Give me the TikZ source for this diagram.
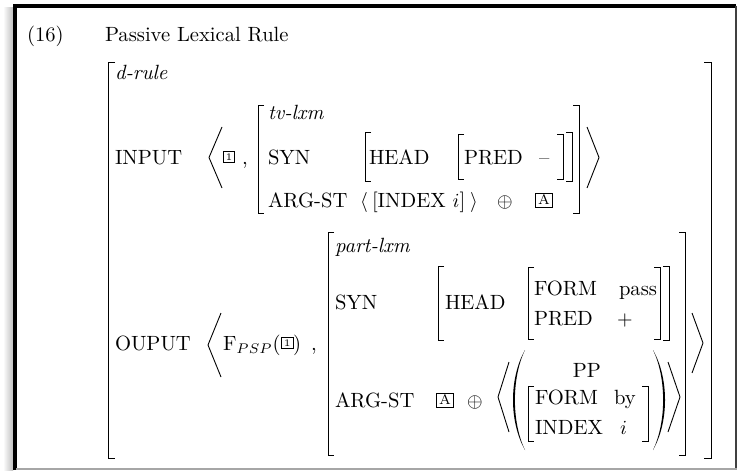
\documentclass[tikz,border=0pt]{standalone}
\usepackage{amsmath}
\usepackage{fontspec}
\begin{document}
\begin{tikzpicture}[x=0.5pt,y=-0.5pt,
  font=\fontsize{10.3pt}{12.4pt}\selectfont,
  t/.style={anchor=base west, inner sep=0pt, outer sep=0pt},
  brk/.style={line width=0.5pt, line cap=butt, line join=miter},
  ang/.style={line width=0.45pt, line join=miter},
  tagbox/.style={draw, line width=0.4pt, inner sep=0pt, outer sep=0pt, minimum width=5.8pt, minimum height=5.8pt, font=\tiny},
  tagboxA/.style={draw, line width=0.4pt, inner sep=0pt, outer sep=0pt, minimum width=8.2pt, minimum height=7pt, font=\scriptsize}]
\useasboundingbox (0,0) rectangle (737,470);
\fill[white] (0,0) rectangle (737,470);
\shade[left color=white, right color=black!25] (3,8) rectangle (13,470);
\draw[line width=2pt] (15,470) -- (15,6) -- (736,6);
\draw[black!75, line width=1pt] (735.5,6) -- (735.5,470);
\draw[black!35, line width=1pt] (16,469) -- (737,469);

% header
\node[t] (num) at (27,42) {(16)};
\node[t] (title) at (105,42) {Passive Lexical Rule};

% outer brackets
\draw[brk] (115,63) -- (108,63) -- (108,458) -- (115,458);
\draw[brk] (704,63) -- (711,63) -- (711,458) -- (704,458);

\node[t] (drule) at (115,80) {\textit{d-rule}};
\node[t] (input) at (115,164) {INPUT};
\node[t] (output) at (115,350) {OUPUT};

% ---------- INPUT ----------
\draw[ang] (222,127) -- (209,157.5) -- (222,188);
\node[tagbox] (one) at (229,157) {1};
\node[t] (c1) at (242,164) {,};
\draw[brk] (264,106) -- (258,106) -- (258,213) -- (264,213);
\draw[brk] (573,106) -- (579,106) -- (579,213) -- (573,213);
\node[t] (tvlxm) at (268,120) {\textit{tv-lxm}};
\node[t] (syn1) at (268,164) {SYN};
\node[t] (arg1) at (268,207) {ARG-ST};
\draw[brk] (371,133) -- (365,133) -- (365,182) -- (371,182);
\draw[brk] (566,133) -- (572,133) -- (572,182) -- (566,182);
\node[t] (head1) at (369,164) {HEAD};
\draw[brk] (464,135) -- (458,135) -- (458,180) -- (464,180);
\draw[brk] (557,135) -- (563,135) -- (563,180) -- (557,180);
\node[t] (pred1) at (464,164) {PRED};
\node[t] (minus) at (539,164) {--};
\node[t] (la1) at (360,207) {$\langle$};
\node[t] (idx1) at (372,207) {[INDEX $i$]};
\node[t] (ra1) at (470,207) {$\rangle$};
\node[t] (op1) at (497,207) {$\oplus$};
\node[tagboxA] (A1) at (544,200) {A};
\draw[ang] (587,127) -- (599,157.5) -- (587,188);

% ---------- OUTPUT ----------
\draw[ang] (221,313) -- (208,345) -- (221,377);
\node[t] (F) at (223,350) {F$_{PSP}$(};
\node[tagbox, anchor=west, xshift=0.4pt] (one2) at (F.east |- 0,343) {1};
\node[t] (rp) at (one2.east |- F.base) {)};
\node[t] (c2) at (311,350) {,};

\draw[brk] (334,232) -- (328,232) -- (328,455) -- (334,455);
\draw[brk] (679,232) -- (685,232) -- (685,455) -- (679,455);
\node[t] (plxm) at (335,252) {\textit{part-lxm}};
\node[t] (syn2) at (335,309) {SYN};
\node[t] (arg2) at (335,407) {ARG-ST};

\draw[brk] (444,266) -- (438,266) -- (438,340) -- (444,340);
\draw[brk] (663,266) -- (669,266) -- (669,340) -- (663,340);
\node[t] (head2) at (445,309) {HEAD};
\draw[brk] (534,267) -- (528,267) -- (528,339) -- (534,339);
\draw[brk] (654,267) -- (660,267) -- (660,339) -- (654,339);
\node[t] (form2) at (534,295) {FORM};
\node[t] (pass) at (619,295) {pass};
\node[t] (pred2) at (534,325) {PRED};
\node[t] (plus) at (617,325) {$+$};

\node[tagboxA] (A2) at (445,400) {A};
\node[t] (op2) at (467,407) {$\oplus$};
\draw[ang] (509,362) -- (498,397) -- (509,432);
\fill (525,350) .. controls (509,378) and (509,422) .. (525,450)
      .. controls (511.5,422) and (511.5,378) .. (525,350);
\node[t, anchor=base east] (pp) at (601,377) {PP};
\draw[brk] (534,386) -- (528,386) -- (528,441) -- (534,441);
\draw[brk] (642,386) -- (648,386) -- (648,441) -- (642,441);
\node[t] (form3) at (535,404) {FORM};
\node[t] (by) at (614,404) {by};
\node[t] (index3) at (535,434) {INDEX};
\node[t] (i3) at (620,434) {$i$};
\fill (653,350) .. controls (669,378) and (669,422) .. (653,450)
      .. controls (666.5,422) and (666.5,378) .. (653,350);
\draw[ang] (668,362) -- (680,397) -- (668,432);
\draw[ang] (692,313) -- (703,343) -- (692,373);
\end{tikzpicture}
\end{document}
